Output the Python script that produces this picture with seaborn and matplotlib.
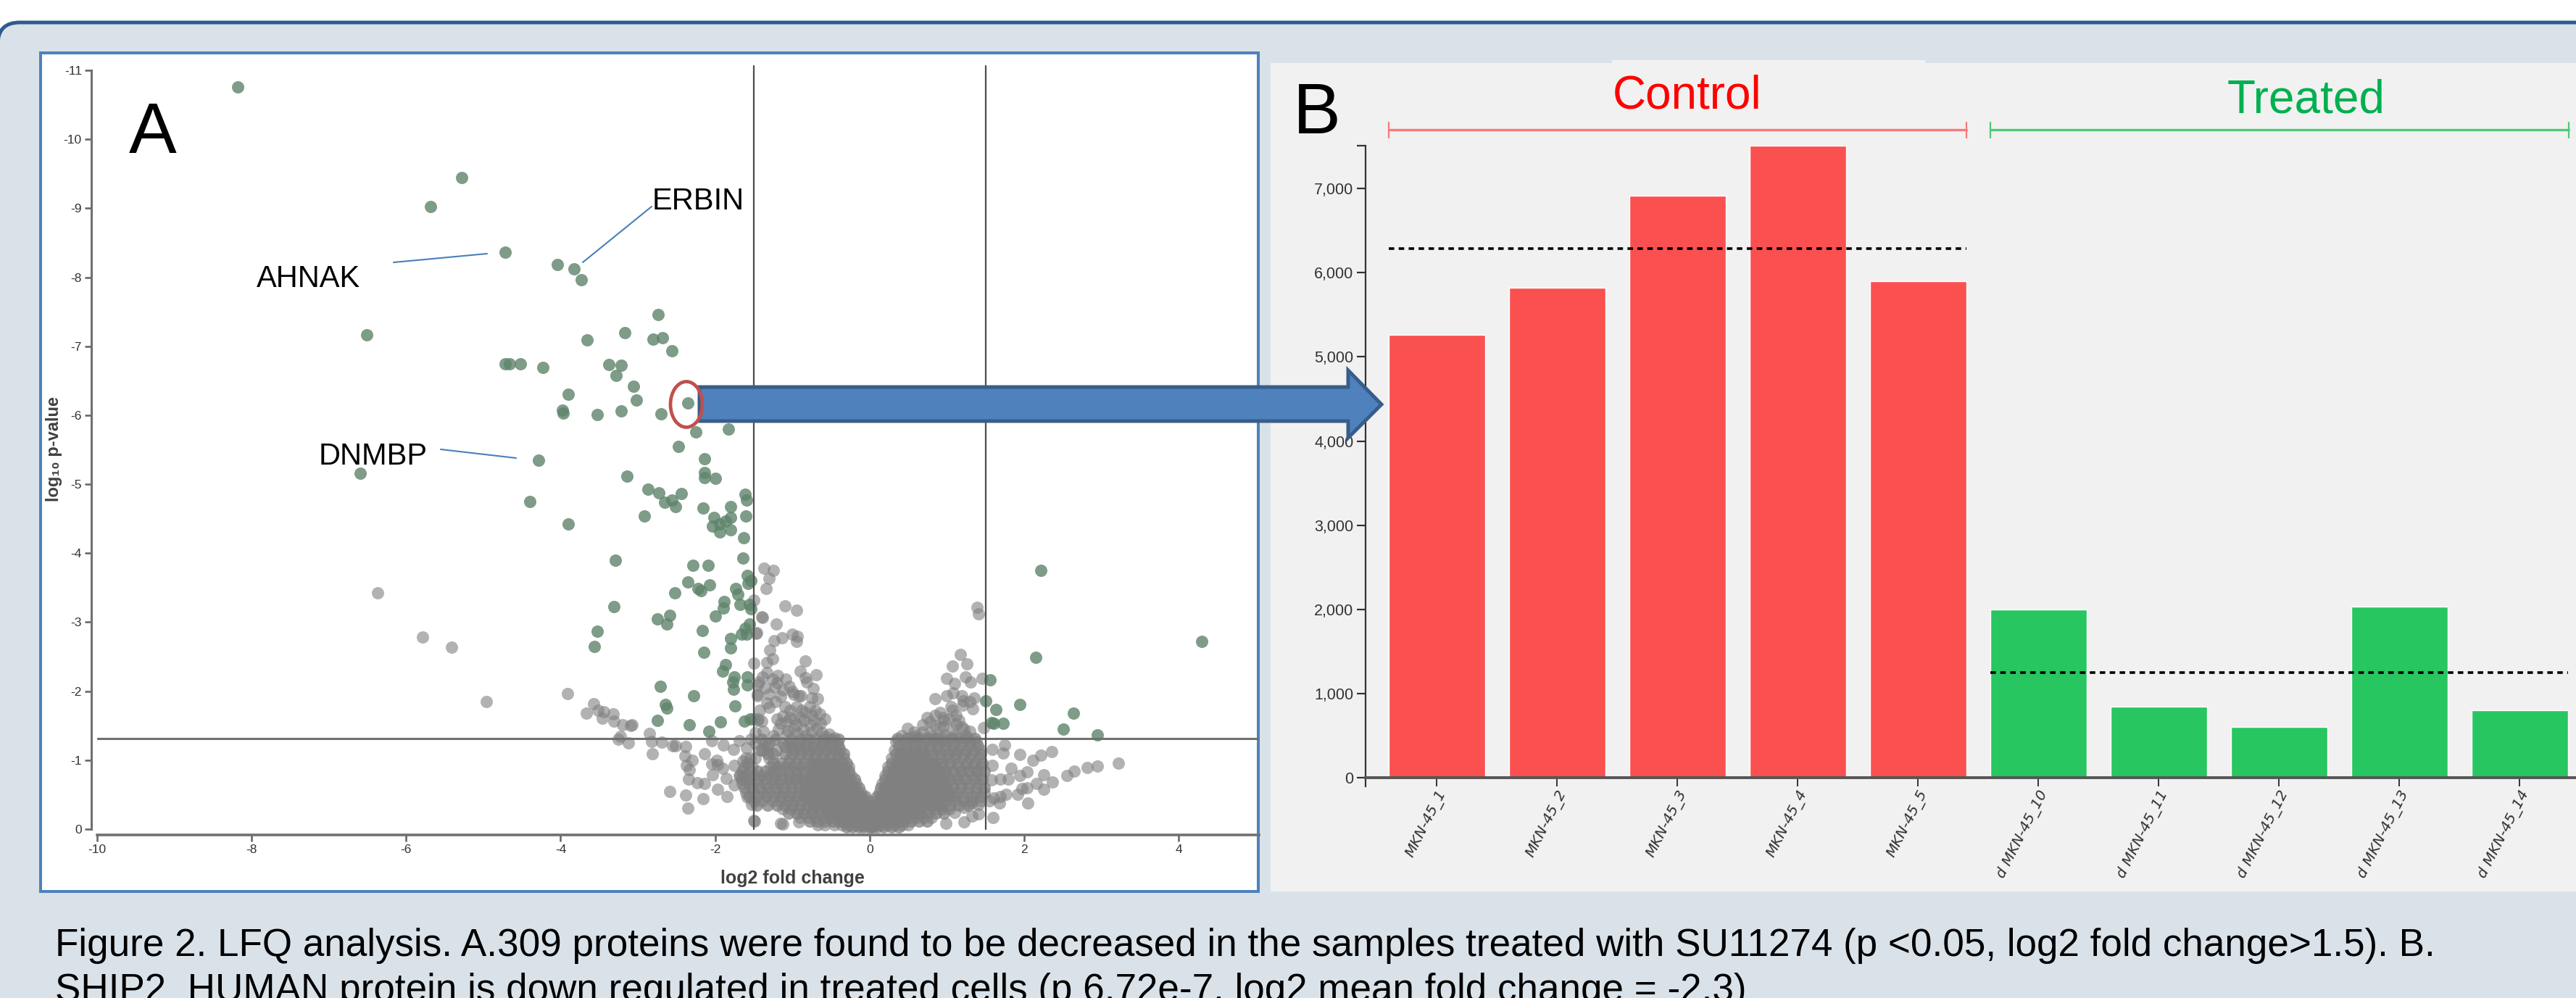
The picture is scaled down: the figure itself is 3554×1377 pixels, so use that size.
import matplotlib
matplotlib.use('Agg')
import matplotlib.pyplot as plt
import matplotlib.transforms as mtrans
from matplotlib.patches import FancyBboxPatch, Rectangle, Ellipse, Polygon
import pandas as pd
import seaborn as sns

W, H = 3554, 1377

# volcano plot as (log2 fold change, log10 p)
green_points = [
    (-8.18, -10.76), (-5.28, -9.44), (-5.68, -9.02), (-4.72, -8.36), (-4.04, -8.18), (-3.83, -8.12),
    (-3.73, -7.96), (-6.51, -7.16), (-2.74, -7.46), (-3.66, -7.09), (-3.17, -7.20), (-2.80, -7.10),
    (-2.68, -7.12), (-2.56, -6.93), (-4.72, -6.75), (-4.66, -6.75), (-4.52, -6.75), (-4.23, -6.69),
    (-3.38, -6.73), (-3.22, -6.72), (-3.28, -6.58), (-3.06, -6.42), (-3.90, -6.30), (-3.02, -6.22),
    (-3.98, -6.07), (-3.97, -6.03), (-3.53, -6.01), (-3.22, -6.06), (-2.70, -6.02), (-2.35, -6.18),
    (-2.25, -5.76), (-2.48, -5.55), (-1.83, -5.80), (-4.29, -5.35), (-6.59, -5.16), (-2.14, -5.37),
    (-3.14, -5.12), (-2.14, -5.17), (-2.14, -5.10), (-2.00, -5.09), (-2.87, -4.93), (-2.73, -4.88),
    (-2.44, -4.86), (-4.40, -4.75), (-1.61, -4.85), (-1.59, -4.77), (-2.56, -4.77), (-2.65, -4.74),
    (-2.51, -4.68), (-3.90, -4.42), (-2.92, -4.54), (-2.16, -4.65), (-1.80, -4.68), (-1.60, -4.54),
    (-2.02, -4.52), (-1.80, -4.52), (-1.87, -4.47), (-1.94, -4.42), (-2.03, -4.39), (-1.94, -4.31),
    (-1.80, -4.34), (-1.63, -4.22), (-1.64, -3.93), (-3.29, -3.90), (-2.29, -3.82), (-2.09, -3.82),
    (-1.58, -3.68), (-1.54, -3.60), (-1.57, -3.56), (-2.35, -3.58), (-2.07, -3.54), (-2.22, -3.49),
    (-2.18, -3.46), (-2.52, -3.42), (-1.73, -3.49), (-1.71, -3.40), (-1.88, -3.30), (-1.89, -3.20),
    (-1.68, -3.26), (-1.56, -3.26), (-1.54, -3.19), (-3.31, -3.23), (-2.59, -3.10), (-2.75, -3.05),
    (-2.63, -2.97), (-2.00, -3.09), (-2.17, -2.88), (-1.56, -2.97), (-1.61, -2.91), (-1.66, -2.83),
    (-1.59, -2.83), (-3.53, -2.87), (-3.56, -2.65), (-1.80, -2.76), (-1.80, -2.63), (-2.15, -2.56),
    (-1.87, -2.39), (-1.90, -2.29), (-1.75, -2.21), (-1.77, -2.13), (-1.76, -2.03), (-1.58, -2.21),
    (-1.58, -2.09), (-2.71, -2.07), (-2.28, -1.93), (-1.74, -1.79), (-2.64, -1.81), (-2.63, -1.75),
    (-2.75, -1.58), (-2.33, -1.51), (-1.93, -1.55), (-1.62, -1.57), (-1.55, -1.60), (-2.08, -1.42),
    (2.22, -3.75), (2.15, -2.49), (4.30, -2.72), (1.56, -2.16), (1.50, -1.86), (1.63, -1.73),
    (1.94, -1.81), (1.58, -1.54), (1.61, -1.53), (1.73, -1.53), (2.64, -1.68), (2.51, -1.45), (2.95, -1.37),
]

gray_left_outer = [
    (-6.37, -3.43), (-5.79, -2.78), (-5.41, -2.64), (-4.96, -1.85), (-3.91, -1.96), (-3.57, -1.82),
    (-3.67, -1.68), (-3.52, -1.72), (-3.44, -1.70), (-3.46, -1.61), (-3.32, -1.67), (-3.31, -1.57),
    (-3.20, -1.51), (-3.09, -1.50), (-3.08, -1.51), (-3.23, -1.35), (-3.25, -1.30), (-3.12, -1.25),
    (-2.85, -1.39), (-2.82, -1.27), (-2.81, -1.09), (-2.69, -1.26), (-2.55, -1.21), (-2.51, -1.21),
    (-2.38, -1.20), (-2.04, -1.28), (-2.14, -1.09), (-2.39, -1.06), (-2.30, -1.00), (-2.37, -0.92),
    (-2.33, -0.86), (-2.34, -0.73), (-2.23, -0.67), (-2.14, -0.66), (-2.59, -0.55), (-2.38, -0.49),
    (-2.16, -0.44), (-2.35, -0.30), (-2.04, -0.95), (-1.98, -1.00), (-1.97, -0.93), (-2.03, -0.79),
    (-1.90, -0.88), (-1.97, -0.58), (-1.85, -0.47), (-1.89, -1.22), (-1.76, -1.16), (-1.69, -1.28),
    (-1.59, -1.18), (-1.54, -1.30), (-1.75, -0.92), (-1.64, -0.99), (-1.69, -0.78), (-1.86, -0.74),
    (-1.75, -0.64), (-1.61, -0.71), (-1.58, -0.46), (-1.53, -0.36), (-1.49, -0.12), (-1.15, -0.08),
    (-1.50, -2.41), (-1.47, -2.84), (-1.45, -1.58), (-1.45, -1.95), (-1.43, -2.13),
]

gray_left_upper = [
    (-1.37, -3.78), (-1.25, -3.75), (-1.30, -3.63), (-1.34, -3.49), (-1.50, -3.32), (-1.10, -3.24),
    (-0.95, -3.17), (-1.40, -3.08), (-1.39, -3.07), (-1.21, -2.97), (-1.46, -2.85), (-1.00, -2.83),
    (-0.94, -2.79), (-0.95, -2.72), (-1.13, -2.77), (-1.24, -2.73), (-1.29, -2.59), (-1.26, -2.47),
    (-1.33, -2.42), (-0.83, -2.44), (-0.90, -2.29), (-0.69, -2.24), (-0.83, -2.20), (-1.33, -2.27),
    (-1.39, -2.21), (-1.26, -2.18), (-1.19, -2.23), (-1.09, -2.18), (-1.23, -2.06), (-1.04, -2.07),
    (-1.45, -2.09), (-1.45, -1.93), (-0.98, -1.95), (-0.92, -1.93), (-0.89, -1.93), (-0.81, -2.13),
    (-0.73, -2.04), (-0.75, -1.90), (-0.67, -1.89), (-1.15, -1.92), (-1.33, -1.83), (-1.30, -1.76),
    (-1.03, -1.72), (-1.44, -1.60), (-1.40, -1.57), (-1.12, -1.64), (-1.15, -1.53), (-1.03, -1.62),
    (-0.95, -1.51), (-0.83, -1.69), (-0.75, -1.65), (-0.65, -1.67), (-0.64, -1.53), (-0.78, -1.51),
    (-0.90, -1.62), (-1.25, -1.36), (-1.06, -1.43), (-0.94, -1.39), (-0.75, -1.41), (-0.58, -1.35),
    (-0.46, -1.32), (-1.12, -0.07), (-0.92, -0.11), (-0.67, -0.06), (-1.50, -0.13),
    (-1.35, -2.05), (-1.20, -2.12), (-1.12, -2.02), (-1.00, -2.00), (-1.30, -1.95), (-1.22, -1.85),
    (-1.42, -1.72), (-1.10, -1.78), (-0.95, -1.78), (-0.88, -1.72), (-0.78, -1.78), (-0.70, -1.72),
    (-1.20, -1.60), (-1.08, -1.55), (-0.98, -1.60), (-0.85, -1.58), (-0.72, -1.58), (-0.58, -1.60),
    (-1.18, -1.45), (-1.08, -1.38), (-0.98, -1.46), (-0.86, -1.45), (-0.82, -1.36), (-0.68, -1.46),
    (-0.62, -1.40), (-0.52, -1.38), (-1.38, -1.42), (-1.48, -1.40), (-1.50, -1.60),
]

gray_right_upper = [
    (1.39, -3.22), (1.41, -3.12), (1.17, -2.53), (1.07, -2.36), (1.26, -2.40), (1.00, -2.19),
    (1.10, -2.11), (1.24, -2.21), (1.31, -2.13), (1.46, -2.19), (0.85, -1.89), (1.00, -1.93),
    (1.08, -1.97), (1.19, -1.93), (1.21, -1.86), (1.35, -1.90), (1.33, -1.74), (0.74, -1.62),
    (0.91, -1.69), (1.07, -1.72), (0.97, -1.58), (1.16, -1.58), (0.69, -1.51), (0.49, -1.46),
    (0.57, -1.41), (0.69, -1.41), (0.91, -1.48), (1.07, -1.44), (1.25, -1.36), (1.47, -1.47),
    (0.41, -1.36), (0.82, -1.34), (0.97, -1.37), (1.19, -1.48),
    (0.60, -1.36), (0.78, -1.40), (0.85, -1.50), (0.78, -1.56), (0.95, -1.48), (1.02, -1.60),
    (1.12, -1.52), (1.22, -1.45), (1.30, -1.42), (1.05, -1.78), (0.95, -1.62), (0.85, -1.65),
    (1.12, -1.65), (1.20, -1.80), (1.30, -1.85), (1.10, -1.36), (0.55, -1.33), (0.65, -1.32), (0.88, -1.32),
]

gray_right_outer = [
    (1.59, -1.16), (1.75, -1.22), (1.73, -1.10), (1.94, -1.08), (2.11, -1.00), (2.22, -1.07),
    (2.36, -1.12), (1.59, -0.92), (1.83, -0.88), (2.04, -0.83), (1.94, -0.78), (1.79, -0.73),
    (1.69, -0.73), (1.58, -0.71), (2.25, -0.79), (2.55, -0.78), (2.65, -0.84), (2.82, -0.89),
    (2.95, -0.91), (3.22, -0.96), (2.37, -0.68), (2.16, -0.66), (2.04, -0.60), (1.97, -0.59),
    (2.25, -0.58), (1.92, -0.50), (2.05, -0.38), (1.77, -0.50), (1.69, -0.47), (1.61, -0.45),
    (1.55, -0.41), (1.68, -0.38), (1.60, -0.17), (1.41, -0.22), (1.32, -0.19), (1.22, -0.11),
    (0.99, -0.08), (1.41, -0.36), (1.32, -0.38), (1.22, -0.32), (1.10, -0.24),
]

# dense part of the volcano, estimated row by row
core_left_y = [-1.25, -1.15, -1.03, -0.90, -0.78, -0.66, -0.53, -0.41, -0.29, -0.17, -0.06]
core_left_x = [
    [-1.48, -1.36, -1.30, -1.12, -1.05, -0.95, -0.84, -0.72, -0.60, -0.52, -0.42],
    [-1.42, -1.40, -1.38, -1.20, -0.98, -0.88, -0.78, -0.66, -0.56, -0.46, -0.38],
    [-1.60, -1.55, -1.48, -1.30, -1.03, -0.92, -0.80, -0.72, -0.62, -0.52, -0.42, -0.34],
    [-1.62, -1.52, -1.28, -1.20, -1.10, -1.00, -0.90, -0.80, -0.72, -0.64, -0.56, -0.48, -0.40, -0.32, -0.27],
    [-1.68, -1.60, -1.50, -1.40, -1.30, -1.22, -1.12, -1.02, -0.94, -0.85, -0.76, -0.68, -0.60, -0.52, -0.45, -0.38, -0.31, -0.24],
    [-1.65, -1.56, -1.46, -1.36, -1.26, -1.18, -1.08, -1.00, -0.90, -0.82, -0.74, -0.66, -0.60, -0.52, -0.45, -0.38, -0.31, -0.24, -0.18],
    [-1.60, -1.50, -1.38, -1.30, -1.18, -1.10, -1.00, -0.92, -0.84, -0.76, -0.68, -0.62, -0.55, -0.48, -0.42, -0.35, -0.28, -0.22, -0.16, -0.11],
    [-1.50, -1.40, -1.26, -1.16, -1.06, -0.98, -0.88, -0.80, -0.72, -0.64, -0.56, -0.50, -0.43, -0.36, -0.30, -0.24, -0.18, -0.12, -0.06, -0.02],
    [-1.12, -1.02, -0.92, -0.82, -0.72, -0.64, -0.56, -0.48, -0.40, -0.34, -0.28, -0.22, -0.16, -0.10, -0.05],
    [-0.90, -0.80, -0.70, -0.60, -0.52, -0.44, -0.36, -0.30, -0.24, -0.18, -0.12, -0.06, 0.00],
    [-0.58, -0.46, -0.36, -0.28, -0.20, -0.14, -0.08, -0.02, 0.03],
]
core_left2_y = [-0.95, -0.84, -0.72, -0.60, -0.47, -0.35, -0.23, -0.12]
core_left2_x = [
    [-0.68, -0.58, -0.48],
    [-0.72, -0.62, -0.52, -0.42, -0.34],
    [-0.78, -0.68, -0.58, -0.48, -0.38, -0.30],
    [-0.80, -0.70, -0.60, -0.50, -0.40, -0.32, -0.24],
    [-0.80, -0.70, -0.60, -0.50, -0.40, -0.30, -0.22, -0.14],
    [-0.70, -0.60, -0.50, -0.40, -0.30, -0.22, -0.14, -0.07],
    [-0.55, -0.45, -0.35, -0.27, -0.20, -0.13, -0.06, 0.00],
    [-0.35, -0.25, -0.18, -0.10, -0.04, 0.02],
]
core_left3_y = [-1.30, -1.20, -1.09, -0.96, -0.84, -0.72, -0.60, -0.47, -0.35, -0.23, -0.12, -0.03]
core_left3_x = [
    [-1.40, -1.22, -1.02, -0.90, -0.80, -0.70, -0.60, -0.50, -0.40],
    [-1.32, -1.10, -1.00, -0.92, -0.82, -0.72, -0.62, -0.50, -0.40],
    [-1.32, -1.25, -1.10, -1.00, -0.90, -0.80, -0.70, -0.60, -0.50, -0.40, -0.34],
    [-1.58, -1.25, -1.15, -1.05, -0.95, -0.85, -0.75, -0.65, -0.55, -0.45, -0.36, -0.30],
    [-1.65, -1.55, -1.45, -1.35, -1.25, -1.15, -1.05, -0.95, -0.85, -0.75, -0.65, -0.55, -0.45, -0.35, -0.27],
    [-1.66, -1.56, -1.44, -1.34, -1.24, -1.14, -1.04, -0.96, -0.86, -0.74, -0.64, -0.54, -0.44, -0.34, -0.26, -0.20],
    [-1.62, -1.52, -1.42, -1.32, -1.22, -1.12, -1.02, -0.92, -0.84, -0.74, -0.64, -0.54, -0.44, -0.36, -0.28, -0.20, -0.14],
    [-1.56, -1.44, -1.34, -1.24, -1.14, -1.04, -0.94, -0.84, -0.74, -0.64, -0.54, -0.44, -0.34, -0.26, -0.18, -0.10, -0.05],
    [-1.46, -1.32, -1.20, -1.10, -1.00, -0.90, -0.80, -0.72, -0.62, -0.52, -0.42, -0.32, -0.24, -0.16, -0.10, -0.03],
    [-1.05, -0.95, -0.85, -0.75, -0.65, -0.55, -0.45, -0.36, -0.28, -0.20, -0.14, -0.07, -0.02],
    [-0.78, -0.68, -0.58, -0.48, -0.40, -0.30, -0.22, -0.15, -0.08, -0.02],
    [-0.30, -0.22, -0.14, -0.08, -0.02, 0.04],
]
core_right_y = [-1.27, -1.15, -1.03, -0.90, -0.78, -0.66, -0.53, -0.41, -0.29, -0.17, -0.06]
core_right_x = [
    [0.34, 0.44, 0.55, 0.63, 0.72, 0.82, 0.92, 1.00, 1.10, 1.20, 1.30, 1.38],
    [0.32, 0.42, 0.52, 0.60, 0.70, 0.80, 0.88, 0.98, 1.07, 1.15, 1.25, 1.34, 1.44],
    [0.28, 0.38, 0.46, 0.56, 0.64, 0.74, 0.82, 0.92, 1.00, 1.10, 1.20, 1.30, 1.42],
    [0.24, 0.34, 0.42, 0.50, 0.60, 0.68, 0.78, 0.86, 0.95, 1.02, 1.15, 1.24, 1.34, 1.44],
    [0.20, 0.30, 0.38, 0.48, 0.56, 0.66, 0.74, 0.84, 0.92, 1.00, 1.12, 1.20, 1.32, 1.42],
    [0.16, 0.26, 0.34, 0.44, 0.52, 0.62, 0.70, 0.80, 0.88, 0.98, 1.08, 1.18, 1.30, 1.42],
    [0.12, 0.20, 0.30, 0.38, 0.48, 0.56, 0.66, 0.74, 0.84, 0.94, 1.04, 1.14, 1.26, 1.38, 1.48],
    [0.08, 0.16, 0.24, 0.34, 0.42, 0.52, 0.60, 0.70, 0.80, 0.90, 1.00, 1.10, 1.20, 1.32, 1.44],
    [0.04, 0.12, 0.20, 0.28, 0.38, 0.46, 0.56, 0.64, 0.74, 0.84, 0.94, 1.03],
    [0.02, 0.08, 0.16, 0.24, 0.32, 0.42, 0.50, 0.60, 0.70, 0.80],
    [0.02, 0.08, 0.16, 0.24, 0.32, 0.42, 0.50],
]
core_right2_y = [-1.09, -0.96, -0.84, -0.72, -0.60, -0.47, -0.35, -0.23, -0.12]
core_right2_x = [
    [0.40, 0.50, 0.60, 0.70],
    [0.36, 0.46, 0.56, 0.66, 0.76, 0.84],
    [0.30, 0.40, 0.50, 0.60, 0.70, 0.80, 0.90],
    [0.26, 0.36, 0.46, 0.56, 0.66, 0.76, 0.86, 0.96],
    [0.20, 0.30, 0.40, 0.50, 0.60, 0.70, 0.80, 0.90, 1.00],
    [0.14, 0.24, 0.34, 0.44, 0.54, 0.64, 0.74, 0.84, 0.94, 1.04],
    [0.10, 0.20, 0.30, 0.40, 0.50, 0.60, 0.70, 0.80, 0.90],
    [0.06, 0.14, 0.22, 0.32, 0.42, 0.52, 0.62],
    [0.04, 0.12, 0.20, 0.28, 0.38],
]
core_right3_y = [-1.31, -1.21, -1.09, -0.96, -0.84, -0.72, -0.60, -0.47, -0.35, -0.23, -0.12, -0.03]
core_right3_x = [
    [0.36, 0.48, 0.60, 0.74, 0.86, 0.96, 1.06, 1.16, 1.26, 1.36],
    [0.38, 0.48, 0.58, 0.68, 0.78, 0.88, 0.98, 1.08, 1.18, 1.30, 1.40],
    [0.34, 0.82, 0.92, 1.02, 1.12, 1.22, 1.32, 1.44],
    [0.28, 0.94, 1.04, 1.14, 1.26, 1.36, 1.46],
    [0.24, 0.98, 1.08, 1.18, 1.28, 1.38, 1.48],
    [0.20, 1.04, 1.14, 1.24, 1.36, 1.46],
    [0.14, 0.24, 0.34, 0.44, 0.54, 0.64, 0.74, 0.84, 0.94, 1.08, 1.18, 1.28, 1.38, 1.48],
    [0.10, 0.18, 0.28, 0.38, 0.48, 0.58, 0.68, 0.78, 0.88, 0.98, 1.10, 1.20, 1.32, 1.44],
    [0.06, 0.14, 0.24, 0.34, 0.44, 0.54, 0.64, 0.74, 0.84, 0.94, 1.04, 1.16, 1.28],
    [0.03, 0.10, 0.18, 0.28, 0.36, 0.46, 0.56, 0.66, 0.76, 0.86, 0.96],
    [0.02, 0.08, 0.16, 0.24, 0.34, 0.44, 0.54, 0.64, 0.74],
    [0.02, 0.10, 0.18, 0.28, 0.38],
]

x_ticks_a = [-10, -8, -6, -4, -2, 0, 2, 4]
y_ticks_a = [0, -1, -2, -3, -4, -5, -6, -7, -8, -9, -10, -11]
p_cutoff = -1.31
fc_cutoff = 1.5

# panel B
samples = ['MKN-45_1', 'MKN-45_2', 'MKN-45_3', 'MKN-45_4', 'MKN-45_5',
           'd MKN-45_10', 'd MKN-45_11', 'd MKN-45_12', 'd MKN-45_13', 'd MKN-45_14']
lfq = [5260, 5820, 6920, 7510, 5900, 2000, 840, 600, 2030, 805]
groups = ['Control'] * 5 + ['Treated'] * 5
mean_control = 6288
mean_treated = 1251
y_ticks_b = [0, 1000, 2000, 3000, 4000, 5000, 6000, 7000, 7510]
y_labels_b = ['0', '1,000', '2,000', '3,000', '4,000', '5,000', '6,000', '7,000', '']

caption1 = 'Figure 2. LFQ analysis. A.309 proteins were found to be decreased in the samples treated with SU11274 (p <0.05, log2 fold change>1.5). B.'
caption2 = 'SHIP2_HUMAN protein is down regulated in treated cells (p 6.72e-7, log2 mean fold change = -2.3)'


def rows_to_points(ys, xs):
    pts = []
    for y, row in zip(ys, xs):
        for x in row:
            pts.append((x, y))
    return pts


def px_axes(left, top, right, bottom, **kw):
    return fig.add_axes([left / W, 1 - bottom / H, (right - left) / W, (bottom - top) / H], **kw)


sns.set_theme(style='ticks')
plt.rcParams['font.family'] = ['Liberation Sans', 'DejaVu Sans']

loose_points = (gray_left_outer + gray_left_upper + gray_right_upper + gray_right_outer
                + rows_to_points(core_left_y, core_left_x) + rows_to_points(core_right_y, core_right_x))
mid_points = rows_to_points(core_left3_y, core_left3_x) + rows_to_points(core_right3_y, core_right3_x)
dense_points = rows_to_points(core_left2_y, core_left2_x) + rows_to_points(core_right2_y, core_right2_x)
all_points = loose_points + mid_points + dense_points + green_points
volcano = pd.DataFrame(all_points, columns=['fc', 'logp'])
volcano['kind'] = (['loose'] * len(loose_points) + ['mid'] * len(mid_points)
                   + ['dense'] * len(dense_points) + ['sig'] * len(green_points))
bars = pd.DataFrame({'sample': samples, 'lfq': lfq, 'group': groups})

fig = plt.figure(figsize=(W / 100, H / 100), dpi=100, facecolor='white')

# background, in pixels
bg = fig.add_axes([0, 0, 1, 1], zorder=0)
bg.set_xlim(0, W)
bg.set_ylim(H, 0)
bg.axis('off')
bg.add_patch(FancyBboxPatch((-3, 31), W + 60, H + 60, boxstyle='round,pad=0,rounding_size=30',
                            fc='#DAE2E9', ec='#2F5A8F', lw=3.6))
bg.add_patch(Rectangle((56, 73), 1680, 1157, fc='white', ec='#4F81BD', lw=2.9))
bg.add_patch(Rectangle((1753, 87), W - 1753, 1143, fc='#F1F1F1', ec='none'))
bg.add_patch(Rectangle((2224, 83), 432, 6, fc='#F1F1F1', ec='none'))

# panel A
ax = px_axes(134, 97, 1737, 1144, zorder=2)
ax.patch.set_alpha(0)
for kind, col, a in [('loose', '#808080', 0.6), ('mid', '#808080', 0.75), ('dense', '#808080', 0.97),
                     ('sig', '#5E836A', 0.8)]:
    sns.scatterplot(data=volcano[volcano.kind == kind], x='fc', y='logp', color=col, alpha=a, s=150,
                    linewidth=0, legend=False, ax=ax, clip_on=False)
ax.set_xlim(-10, 5.04)
ax.set_ylim(0, -11)
ax.axhline(p_cutoff, color='#707070', lw=2.2, zorder=3)
ax.plot([-fc_cutoff, -fc_cutoff], [0, -11.06], color='#4d4d4d', lw=1.6, zorder=3, clip_on=False)
ax.plot([fc_cutoff, fc_cutoff], [0, -11.06], color='#4d4d4d', lw=1.6, zorder=3, clip_on=False)
ax.set_xticks(x_ticks_a)
ax.set_yticks(y_ticks_a)
ax.set_xticklabels([str(v) for v in x_ticks_a])
ax.set_yticklabels([str(v) for v in y_ticks_a])
ax.set_xlabel('')
ax.set_ylabel('')
sns.despine(ax=ax, top=True, right=True)
ax.spines['left'].set_position(('outward', 5.8))
ax.spines['bottom'].set_position(('outward', 5.8))
ax.spines['left'].set_bounds(0, -11)
ax.spines['left'].set(color='#707070', lw=2.2)
ax.spines['bottom'].set(color='#707070', lw=2.6)
ax.tick_params(axis='both', length=6.5, width=1.8, color='#606060', labelsize=12.5, labelcolor='#333333', pad=3)

# panel B
ax2 = px_axes(1883.7, 201, W, 1073, zorder=2)
ax2.patch.set_alpha(0)
sns.barplot(data=bars, x='sample', y='lfq', hue='group', palette={'Control': '#FB5050', 'Treated': '#28C661'},
            dodge=False, width=0.8, saturation=1, legend=False, ax=ax2)
ax2.set_xlim(-0.595, 9.467)
ax2.set_ylim(0, 7510)
ax2.plot([-0.4, 4.4], [mean_control, mean_control], color='black', lw=2.6, ls=(0, (2.1, 1.7)), zorder=4)
ax2.plot([4.6, 9.4], [mean_treated, mean_treated], color='black', lw=2.6, ls=(0, (2.1, 1.7)), zorder=4)
ax2.set_yticks(y_ticks_b)
ax2.set_yticklabels(y_labels_b)
ax2.set_xticks(range(len(samples)))
ax2.set_xticklabels(samples, rotation=63, ha='right', va='center', rotation_mode='anchor',
                    style='italic', family='DejaVu Sans', fontsize=14.5, color='#303030')
ax2.set_xlabel('')
ax2.set_ylabel('')
sns.despine(ax=ax2, top=True, right=True)
ax2.spines['left'].set(color='#333333', lw=1.6)
ax2.spines['left'].set_bounds(-103, 7510)
ax2.spines['bottom'].set(color='#555555', lw=2.8)
ax2.tick_params(axis='y', length=8.6, width=1.6, color='#333333', labelsize=15.5, labelcolor='#333333', pad=3)
ax2.tick_params(axis='x', length=8.6, width=1.4, color='#333333', pad=5)
shift = mtrans.ScaledTranslation(8 / 100, 0, fig.dpi_scale_trans)
for t in ax2.get_xticklabels():
    t.set_transform(t.get_transform() + shift)

# overlay, in pixels
top = fig.add_axes([0, 0, 1, 1], zorder=5)
top.set_xlim(0, W)
top.set_ylim(H, 0)
top.axis('off')

# arrow and the red ring
top.add_patch(Polygon([(965, 534), (1860, 534), (1860, 511), (1906, 558), (1860, 604), (1860, 581), (965, 581)],
                      closed=True, fc='#4F81BD', ec='#385D8A', lw=3.6))
top.add_patch(Ellipse((947, 558), 44, 63, fc='none', ec='#C0504D', lw=3.4))

# callouts
for (x0, y0, x1, y1) in [(543, 362, 672, 350), (899, 285, 804, 362), (608, 620, 712, 632)]:
    top.plot([x0, x1], [y0, y1], color='#4A7EBB', lw=1.5)
top.text(900, 289, 'ERBIN', fontsize=30, color='black')
top.text(354, 396, 'AHNAK', fontsize=30, color='black')
top.text(440, 641, 'DNMBP', fontsize=30, color='black')

top.text(178, 211, 'A', fontsize=71, color='black')
top.text(1784, 184, 'B', fontsize=71, color='black')

top.text(2328, 150, 'Control', fontsize=46, color='#FF0000', ha='center')
top.text(3182, 156, 'Treated', fontsize=46, color='#00B050', ha='center')
for (x0, x1, col) in [(1916, 2713, '#F87A7A'), (2746, 3544, '#50C878')]:
    top.plot([x0, x1], [179, 179], color=col, lw=2.4)
    top.plot([x0, x0], [169, 190], color=col, lw=1.6)
    top.plot([x1, x1], [169, 190], color=col, lw=1.6)

top.text(74, 620, 'log\u2081\u2080 p-value', rotation=90, fontsize=17, fontweight='bold', color='#404040',
         ha='center', va='center')
top.text(1093, 1219, 'log2 fold change', fontsize=18, fontweight='bold', color='#404040', ha='center')

top.text(76, 1319, caption1, fontsize=38.2, color='black')
top.text(76, 1381, caption2, fontsize=38.2, color='black')

fig.savefig('out.png', dpi=100)
